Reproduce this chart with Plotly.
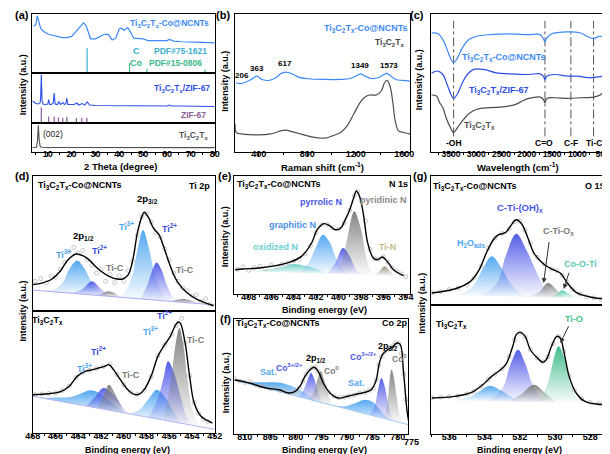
import plotly.graph_objects as go

W, H = 610, 454

# ---------------- (a) XRD ----------------
a_ncnt_x = [4, 5, 5.6, 6.2, 7, 8, 9, 10, 12, 14, 16, 18, 20, 22, 23.5, 25, 26, 27, 28, 30, 32, 34, 35.5, 37, 38.5, 40, 41, 42, 43.5, 44.5, 46, 48, 50, 52, 55, 58, 60, 61, 63, 66, 70, 75, 80]
a_ncnt_y = [79, 82, 97, 88, 76, 71, 68, 66, 64, 62, 60, 60, 62, 71, 79, 85, 81, 68, 58, 58, 62, 66, 65, 56, 59, 75, 76, 72, 77, 71, 59, 58, 58, 55, 55, 54, 55, 57, 54, 53, 53, 52, 51]
a_C_ref_x = [26.5]
a_C_ref_y = [42]
a_Co_ref_x = [44.3, 51.6, 76.0]
a_Co_ref_y = [17, 7, 6]
a_zifc_x = [3.6, 5, 6, 6.8, 7.0, 7.3, 7.6, 8.0, 9, 10.0, 10.4, 10.8, 11.5, 12.3, 12.7, 13.1, 14.0, 14.7, 15.3, 16.4, 17.0, 17.6, 18.0, 18.4, 19.5, 21, 22.2, 23, 24.5, 25.5, 26.6, 27.5, 30, 35, 40, 45, 50, 55, 60, 61, 62, 65, 70, 75, 80]
a_zifc_y = [44, 39, 38, 40, 50, 97, 45, 38, 37, 38, 47, 37, 37, 40, 60, 38, 37, 43, 37, 41, 37, 39, 50, 37, 37, 37, 40, 36, 39, 36, 42, 36, 35, 35, 35, 34, 34, 34, 34, 36, 34, 34, 34, 33, 33]
a_zif_ref_x = [7.3, 10.4, 12.7, 14.5, 16.3, 18.0, 22.0, 24.3, 26.4]
a_zif_ref_y = [31, 13, 13, 11, 10, 12, 10, 10, 10]
a_ti_x = [3.6, 5.3, 5.7, 6.05, 6.4, 6.8, 7.5, 10, 20, 40, 60, 80]
a_ti_y = [14, 15, 40, 92, 40, 18, 15, 14, 14, 14, 13.5, 13.5]

# ---------------- (b) Raman ----------------
b_ncnt_x = [213, 250, 299, 339, 384, 427, 486, 540, 580, 620, 673, 727, 807, 941, 1075, 1155, 1209, 1241, 1276, 1329, 1383, 1423, 1455, 1490, 1530, 1583, 1650]
b_ncnt_y = [50.0, 49.3, 50.7, 52.4, 54.8, 52.4, 51.7, 53.6, 56.5, 57.7, 56.5, 54.1, 52.9, 52.4, 52.4, 53.1, 55.3, 56.5, 54.8, 53.1, 53.6, 55.6, 56.8, 54.8, 52.4, 51.7, 51.2]
b_ti_x = [206, 215, 271, 406, 486, 540, 580, 620, 673, 753, 834, 941, 1008, 1075, 1128, 1182, 1235, 1276, 1316, 1369, 1410, 1437, 1458, 1482, 1504, 1525, 1552, 1597, 1650]
b_ti_y = [19.8, 13.8, 12.6, 12.1, 12.6, 13.8, 15.0, 15.5, 14.5, 12.6, 10.6, 9.7, 11.4, 13.8, 18.6, 27.1, 35.5, 39.6, 41.1, 41.1, 44.0, 50.0, 51.7, 47.6, 36.7, 22.2, 15.0, 13.8, 12.6]
b_peak_pos = [206, 363, 617, 1349, 1573]

# ---------------- (c) FTIR ----------------
c_x = [3885, 3757, 3661, 3578, 3500, 3449, 3372, 3276, 3147, 2987, 2731, 2346, 1962, 1737, 1673, 1641, 1603, 1513, 1192, 935, 808, 679, 564, 474]
c_ncnt_y = [86.2, 85.7, 81.4, 74.2, 66.9, 64.5, 68.1, 75.4, 81.4, 83.8, 85.0, 85.5, 85.0, 85.0, 82.1, 79.7, 82.6, 85.5, 87.0, 86.2, 83.8, 82.1, 83.8, 83.1]
c_zif_x = [3885, 3757, 3661, 3578, 3500, 3449, 3372, 3276, 3179, 3051, 2859, 2603, 2346, 1962, 1737, 1673, 1641, 1603, 1449, 1192, 999, 872, 743, 474]
c_zif_y = [57.2, 58.5, 56.0, 48.8, 41.5, 38.6, 42.0, 50.0, 56.0, 59.7, 59.7, 57.2, 56.5, 56.0, 56.5, 54.8, 52.4, 54.8, 56.0, 54.8, 54.8, 54.1, 53.6, 54.8]
c_ti_x = [3885, 3789, 3725, 3661, 3597, 3513, 3449, 3372, 3276, 3147, 2987, 2731, 2474, 2218, 2090, 1962, 1737, 1673, 1641, 1603, 1449, 1192, 935, 679, 551, 474]
c_ti_y = [41.1, 40.3, 35.5, 31.9, 24.6, 17.4, 13.8, 17.4, 22.2, 27.5, 30.7, 31.9, 32.4, 34.3, 36.7, 38.6, 39.6, 37.9, 35.5, 38.6, 39.1, 38.6, 39.1, 39.6, 41.1, 44.0]
c_marks_x = [3449, 1641, 1128, 679]
c_marks_txt = ["-OH", "C=O", "C-F", "Ti-C"]

# ---------------- (d) Ti 2p ----------------
d1_env_x = [468.0, 467.2, 466.3, 465.6, 464.9, 464.2, 463.6, 463.0, 462.5, 462.0, 461.3, 460.6, 460.1, 459.6, 459.2, 458.8, 458.4, 458.2, 457.8, 457.4, 456.9, 456.5, 456.1, 455.6, 455.2, 454.4, 453.5, 452.1]
d1_env_y = [19.5, 20.7, 23.7, 29.4, 38.0, 42.2, 41.0, 37.5, 33.1, 29.4, 25.7, 23.7, 23.7, 26.9, 38.0, 57.8, 70.1, 73.1, 68.9, 61.5, 56.5, 47.9, 38.0, 26.9, 20.7, 13.3, 8.4, 3.9]
d1_raw_x = [467.8, 467.3, 466.8, 466.4, 466.0, 465.6, 465.2, 464.8, 464.4, 464.0, 463.6, 463.2, 462.8, 462.4, 462.0, 461.6, 461.2, 460.8, 460.4, 460.0, 459.6, 459.2, 458.8, 458.4, 458.0, 457.6, 457.2, 456.8, 456.4, 456.0, 455.6, 455.2, 454.8, 454.4, 454.0, 453.6, 453.2, 452.8, 452.4]
d1_raw_y = [22, 24, 21, 26, 25, 31, 36, 44, 47, 43, 45, 38, 34, 28, 31, 22, 27, 21, 26, 22, 30, 37, 56, 70, 72, 66, 58, 55, 46, 38, 28, 22, 17, 15, 11, 12, 7, 9, 5]
d1_bg_x = [468, 452]
d1_bg_y = [15.5, 4.5]
d1_ti3a_x = [467.0, 466.0, 465.3, 464.8, 464.1, 463.5, 463.0, 462.4, 461.6]
d1_ti3a_y = [14.8, 16.5, 22, 31, 37.5, 32, 24, 15.5, 11.1]
d1_ti2a_x = [464.5, 463.6, 462.8, 462.1, 461.3]
d1_ti2a_y = [13.1, 16.5, 22, 17, 10.9]
d1_tica_x = [462.2, 461.3, 460.3]
d1_tica_y = [11.5, 14.6, 10.2]
d1_ti3b_x = [461.0, 460.0, 459.3, 458.8, 458.3, 457.8, 457.3, 456.7, 456.0]
d1_ti3b_y = [10.7, 13, 25, 45, 60, 47, 28, 14, 7.3]
d1_ti2b_x = [458.5, 457.9, 457.4, 457.1, 456.7, 456.2, 455.6, 455.0]
d1_ti2b_y = [9.0, 20, 32, 36, 31, 19, 9.5, 6.6]
d1_ticb_x = [455.8, 454.7, 453.4]
d1_ticb_y = [7.1, 8.8, 5.5]

d2_env_x = [468.0, 466.6, 465.5, 464.8, 464.1, 463.4, 462.7, 462.2, 461.7, 461.3, 460.9, 460.3, 459.6, 459.0, 458.6, 458.2, 457.6, 457.0, 456.5, 455.9, 455.5, 455.2, 455.0, 454.6, 454.2, 453.8, 453.2, 452.2]
d2_env_y = [31.4, 32.2, 34.2, 38.3, 46.4, 50.5, 51.9, 53.3, 54.6, 56.0, 51.9, 43.7, 35.0, 31.4, 32.0, 35.5, 46.4, 62.8, 71.0, 79.2, 87.5, 91.0, 89.6, 73.8, 46.4, 24.6, 13.7, 8.2]
d2_raw_x = [467.8, 467.2, 466.6, 466.0, 465.4, 464.8, 464.2, 463.6, 463.0, 462.4, 461.8, 461.2, 460.6, 460.0, 459.4, 458.8, 458.2, 457.6, 457.0, 456.4, 455.8, 455.4, 454.9, 454.6, 454.2, 453.8, 453.4, 453.0, 452.6]
d2_raw_y = [31.5, 32, 32.5, 33, 34.8, 38.5, 45.5, 49.8, 51.5, 52.8, 54.5, 56.5, 48, 39.5, 33.5, 31.8, 35, 46, 63.5, 72, 81, 88, 94, 74, 47, 25, 16, 11.5, 9.5]
d2_bg_x = [468, 452]
d2_bg_y = [30, 3]
d2_ti3a_x = [467.5, 466.0, 464.5, 463.5, 462.9, 462.2, 461.5, 460.5, 459.5, 458.8]
d2_ti3a_y = [29.2, 29, 30, 33.5, 35, 33, 28, 21, 16.5, 14.5]
d2_ti2a_x = [463.3, 462.5, 461.8, 461.2, 460.5, 459.8]
d2_ti2a_y = [22.1, 30, 36.9, 34, 27, 16.2]
d2_tica_x = [462.3, 461.8, 461.3, 460.8, 460.2, 459.5]
d2_tica_y = [20.4, 30, 39.6, 33, 22, 15.7]
d2_ti3b_x = [459.5, 458.6, 457.8, 457.1, 456.4, 455.8, 455.0]
d2_ti3b_y = [15.7, 19, 28, 35.5, 30, 20, 8.1]
d2_ti2b_x = [457.8, 457.0, 456.5, 456.1, 455.6, 455.0, 454.4, 453.9]
d2_ti2b_y = [12.8, 28, 45, 58.8, 50, 30, 12, 6.2]
d2_ticb_x = [456.5, 455.9, 455.4, 455.1, 454.8, 454.4, 454.0, 453.5, 453.0]
d2_ticb_y = [10.6, 40, 75, 86, 75, 45, 20, 8, 4.7]

# ---------------- (e) N 1s ----------------
e_env_x = [409.2, 408.5, 407.1, 405.6, 404.4, 403.3, 402.4, 401.9, 401.3, 400.8, 400.3, 399.8, 399.4, 399.0, 398.7, 398.4, 398.1, 397.8, 397.4, 396.9, 396.5, 396.1, 395.6, 395.1, 394.2]
e_env_y = [20.6, 21.2, 22.0, 24.0, 26.8, 31.9, 43.2, 54.5, 59.6, 57.9, 54.5, 55.9, 63.0, 71.4, 80, 87.3, 82, 68.6, 43.2, 30.5, 29.1, 31.4, 26.8, 20.6, 15.5]
e_raw_x = [409.0, 408.5, 408.0, 407.5, 407.0, 406.5, 406.0, 405.5, 405.0, 404.5, 404.0, 403.5, 403.0, 402.5, 402.0, 401.5, 401.0, 400.5, 400.0, 399.5, 399.0, 398.6, 398.3, 398.0, 397.6, 397.2, 396.8, 396.4, 396.0, 395.6, 395.2, 394.8, 394.4, 394.0]
e_raw_y = [21, 23, 20, 22.5, 23.5, 21.5, 24.5, 23, 25.5, 26.5, 28, 29.5, 34, 41, 52, 58.5, 59, 56, 55, 60.5, 71, 83, 87, 79, 62, 38, 30, 29.5, 31.5, 27, 22, 19.5, 17, 14.5]
e_ox_x = [408.5, 406.5, 405.0, 404.1, 403.0, 402.0, 401.0]
e_ox_y = [19.4, 20.5, 23, 25.4, 24, 21.5, 17.1]
e_gr_x = [403.5, 402.7, 402.0, 401.4, 400.8, 400.2, 399.5, 399.0]
e_gr_y = [17.9, 26, 40, 50.3, 44, 30, 20, 16.5]
e_pyr_x = [401.0, 400.3, 399.6, 399.0, 398.4, 397.8]
e_pyr_y = [17.1, 26, 39, 32, 20, 16.2]
e_pyd_x = [400.5, 399.8, 399.2, 398.6, 398.0, 397.5, 397.0, 396.5]
e_pyd_y = [17.0, 25, 48, 70.1, 55, 30, 18, 15.8]
e_tin_x = [396.8, 396.3, 395.9, 395.5, 395.0]
e_tin_y = [15.9, 20, 23.5, 20, 15.3]

# ---------------- (f) Co 2p ----------------
f_env_x = [812.0, 809.1, 805.9, 803.3, 801.4, 800.1, 799.1, 798.2, 797.2, 796.4, 795.6, 794.6, 793.3, 791.7, 789.8, 787.8, 786.5, 785.2, 784.3, 783.6, 783.0, 782.0, 781.0, 780.2, 779.5, 778.9, 778.2, 777.8]
f_env_y = [47.2, 44.3, 40.0, 38.5, 35.7, 37.1, 42.0, 50.1, 55.9, 58.0, 54.5, 44.3, 35.7, 31.3, 32.8, 35.0, 36.2, 38.5, 45.8, 61.7, 69.0, 73.3, 75.7, 79.1, 77.7, 55.9, 21.1, 9.6]
f_raw_x = [812, 811, 810, 809, 808, 807, 806, 805, 804, 803, 802, 801, 800, 799.3, 798.6, 798, 797.4, 796.8, 796.2, 795.6, 795, 794.4, 793.5, 792.5, 791.5, 790.5, 789.5, 788.5, 787.5, 786.5, 785.5, 784.8, 784.2, 783.7, 783.2, 782.6, 782, 781.4, 780.8, 780.3, 779.8, 779.3, 778.8, 778.4]
f_raw_y = [48, 46, 44.8, 45.5, 43, 41.5, 42, 39.5, 40, 38, 37.5, 36, 37, 40, 46, 52, 55, 57.5, 58, 54, 48, 42, 36.5, 33, 31.5, 32, 33, 34, 35.5, 36, 38, 40, 47, 60, 67, 71, 73.5, 75, 77, 79.5, 78.5, 70, 52, 30]
f_bg_x = [812.0, 777.9]
f_bg_y = [46.6, 8.1]
f_sat1_x = [811.0, 808.0, 805.5, 803.0, 800.5, 798.0, 795.5, 794.5]
f_sat1_y = [45.5, 45, 45, 44.5, 41, 35, 28, 26.8]
f_co3a_x = [799.5, 798.5, 797.6, 797.0, 796.4, 795.6, 794.8]
f_co3a_y = [32.5, 38, 48, 53, 48, 36, 27.2]
f_co0a_x = [797.5, 796.5, 795.7, 795.1, 794.5, 793.7, 792.8, 792.2]
f_co0a_y = [30.2, 36, 48, 54.5, 48, 35, 25, 24.2]
f_sat2_x = [793.0, 790.5, 788.5, 786.5, 785.0, 783.5, 782.0, 780.5, 779.0]
f_sat2_y = [25.2, 24, 26.5, 29.8, 28, 21, 14, 11, 9.3]
f_co3b_x = [785.5, 784.5, 783.8, 783.2, 782.6, 781.9, 781.2, 780.6]
f_co3b_y = [16.7, 25, 40, 48.7, 42, 27, 15, 11.2]
f_co0b_x = [782.7, 782.0, 781.5, 781.2, 780.8, 780.2, 779.6, 779.0]
f_co0b_y = [13.5, 28, 50, 56, 50, 32, 16, 9.3]

# ---------------- (g) O 1s ----------------
g1_env_x = [537.0, 535.7, 534.8, 534.3, 533.9, 533.5, 533.2, 532.8, 532.4, 532.2, 531.9, 531.5, 531.2, 530.6, 530.1, 529.7, 529.3, 528.8, 528.0, 527.2]
g1_env_y = [9.3, 12.4, 18.3, 27.4, 40.3, 50.6, 54.5, 56.3, 63.6, 66.1, 63.0, 50.6, 40.3, 31.2, 27.4, 24.8, 17.1, 9.8, 6.2, 4.7]
g1_raw_x = [537, 536.5, 536, 535.5, 535, 534.6, 534.2, 533.8, 533.4, 533.0, 532.6, 532.3, 532.0, 531.7, 531.4, 531.0, 530.6, 530.2, 529.9, 529.6, 529.3, 529.0, 528.6, 528.2, 527.8, 527.4]
g1_raw_y = [9.5, 10.5, 12, 13, 15.5, 21, 30, 44, 52, 55.5, 59, 64.5, 65, 58, 48, 37, 31.5, 28, 26.5, 23, 17.5, 12, 8.5, 6.5, 5.5, 4.5]
g1_h2o_x = [535.5, 534.7, 534.1, 533.6, 533.1, 532.5, 531.9, 531.5]
g1_h2o_y = [7.5, 14, 28, 37.7, 30, 16, 8.4, 6.2]
g1_oh_x = [534.2, 533.3, 532.8, 532.2, 531.6, 531.0, 530.5, 529.8]
g1_oh_y = [7.1, 17, 38, 55.3, 42, 24, 12, 5.6]
g1_tiox_x = [531.5, 530.9, 530.4, 530.0, 529.5]
g1_tiox_y = [6.2, 10, 17, 13, 5.5]
g1_coo_x = [530.3, 529.9, 529.6, 529.2, 528.8]
g1_coo_y = [5.8, 8.5, 11.4, 8.5, 5.3]

g2_env_x = [537.0, 535.7, 534.8, 534.1, 533.6, 533.2, 532.8, 532.4, 532.2, 532.0, 531.7, 531.4, 531.0, 530.7, 530.5, 530.2, 529.9, 529.7, 529.5, 529.2, 528.8, 528.3, 527.2]
g2_env_y = [27.9, 29.2, 31.8, 38.2, 44.7, 48.6, 53.7, 68.0, 77.0, 78.8, 75.7, 65.3, 58.9, 55.6, 57.6, 68.0, 75.7, 74.4, 64.1, 44.7, 31.8, 25.3, 22.7]
g2_raw_x = [537, 536.5, 536, 535.5, 535, 534.6, 534.2, 533.8, 533.4, 533.0, 532.6, 532.3, 532.0, 531.7, 531.4, 531.0, 530.7, 530.4, 530.1, 529.8, 529.5, 529.2, 528.9, 528.5, 528.0, 527.5]
g2_raw_y = [28, 28.5, 29, 29.5, 31, 33, 37, 42, 46.5, 50.5, 60, 73, 78.5, 75.5, 65.5, 59, 55.8, 60, 70, 75.5, 64, 45, 34, 27.5, 24.5, 23.5]
g2_h2o_x = [535.8, 534.8, 534.2, 533.7, 533.1, 532.5, 531.9]
g2_h2o_y = [26.2, 29, 34, 37.4, 34, 29, 24.9]
g2_oh_x = [533.8, 533.0, 532.5, 532.1, 531.7, 531.2, 530.6, 530.2]
g2_oh_y = [25.5, 35, 55, 65.3, 55, 36, 26, 24.3]
g2_tiox_x = [532.6, 531.9, 531.2, 530.5, 529.9]
g2_tiox_y = [25.1, 31, 38.2, 31, 24.2]
g2_tio_x = [530.9, 530.4, 530.0, 529.8, 529.5, 529.1, 528.7, 528.3]
g2_tio_y = [24.6, 40, 62, 68, 60, 38, 27, 23.7]

# ---------------- styles ----------------
C_NCNT = "#3D8AF7"
C_ZIFC = "#2F4FE6"
C_ZIF = "#8A5C98"
C_TI = "#4D4D4D"
C_CREF = "#3AAFD0"
C_COREF = "#3CB889"
RGB = {"lb": (74, 163, 240), "vi": (76, 86, 230), "gr": (125, 125, 125),
       "te": (105, 205, 195), "tn": (150, 140, 120), "cg": (80, 200, 165), "tio": (55, 185, 135)}
FONT = "Arial"

fig = go.Figure()


def ax(n):
    return ("x" if n == 1 else f"x{n}"), ("y" if n == 1 else f"y{n}")


def line(n, x, y, color, width=1.0, shape="linear", dash=None):
    xa, ya = ax(n)
    fig.add_trace(go.Scatter(x=x, y=y, xaxis=xa, yaxis=ya, mode="lines", line_shape=shape,
                             line=dict(color=color, width=width, dash=dash), hoverinfo="skip",
                             showlegend=False))


def sticks(n, xs, hs, color, width=1.0):
    xx, yy = [], []
    for xv, hv in zip(xs, hs):
        xx += [xv, xv, None]
        yy += [0, hv, None]
    line(n, xx, yy, color, width)


def comp(n, x, y, key):
    r, g, b = RGB[key]
    xa, ya = ax(n)
    fig.add_trace(go.Scatter(x=x, y=y, xaxis=xa, yaxis=ya, mode="lines", fill="toself",
                             line=dict(width=0, color=f"rgba({r},{g},{b},0)"), line_shape="spline",
                             fillcolor=f"rgba({r},{g},{b},0.6)",
                             fillgradient=dict(type="vertical", colorscale=[[0, f"rgba({r},{g},{b},0.02)"],
                                                                            [1, f"rgba({r},{g},{b},0.95)"]]),
                             hoverinfo="skip", showlegend=False))


def raw(n, x, y):
    xa, ya = ax(n)
    fig.add_trace(go.Scatter(x=x, y=y, xaxis=xa, yaxis=ya, mode="markers",
                             marker=dict(symbol="circle-open", size=4, color="#B8B8B8", line=dict(width=0.8)),
                             hoverinfo="skip", showlegend=False))


# (a)
line(1, a_ncnt_x, a_ncnt_y, C_NCNT, 1.2)
sticks(1, a_C_ref_x, a_C_ref_y, C_CREF, 1.2)
sticks(1, a_Co_ref_x, a_Co_ref_y, C_COREF, 1.2)
line(2, a_zifc_x, a_zifc_y, C_ZIFC, 1.1)
sticks(2, a_zif_ref_x, a_zif_ref_y, C_ZIF, 1.2)
line(3, a_ti_x, a_ti_y, C_TI, 1.1)
# (b)
line(4, b_ncnt_x, b_ncnt_y, C_NCNT, 1.2, "spline")
line(4, b_ti_x, b_ti_y, C_TI, 1.2, "spline")
# (c)
for xv in c_marks_x:
    line(5, [xv, xv], [11, 95], "#555555", 1.0, dash="dashdot")
line(5, c_x, c_ncnt_y, C_NCNT, 1.2, "spline")
line(5, c_zif_x, c_zif_y, C_ZIFC, 1.2, "spline")
line(5, c_ti_x, c_ti_y, C_TI, 1.2, "spline")
# (d)
for xs, ys, k in [(d1_ti3a_x, d1_ti3a_y, "lb"), (d1_ti2a_x, d1_ti2a_y, "vi"), (d1_tica_x, d1_tica_y, "gr"),
                  (d1_ti3b_x, d1_ti3b_y, "lb"), (d1_ti2b_x, d1_ti2b_y, "vi"), (d1_ticb_x, d1_ticb_y, "gr")]:
    comp(6, xs, ys, k)
line(6, d1_bg_x, d1_bg_y, "#A9A9F2", 1.0)
raw(6, d1_raw_x, d1_raw_y)
line(6, d1_env_x, d1_env_y, "black", 1.4, "spline")
for xs, ys, k in [(d2_ti3a_x, d2_ti3a_y, "lb"), (d2_ti2a_x, d2_ti2a_y, "vi"), (d2_tica_x, d2_tica_y, "gr"),
                  (d2_ti3b_x, d2_ti3b_y, "lb"), (d2_ti2b_x, d2_ti2b_y, "vi"), (d2_ticb_x, d2_ticb_y, "gr")]:
    comp(7, xs, ys, k)
line(7, d2_bg_x, d2_bg_y, "#B4B4F2", 1.0)
raw(7, d2_raw_x, d2_raw_y)
line(7, d2_env_x, d2_env_y, "black", 1.4, "spline")
# (e)
for xs, ys, k in [(e_ox_x, e_ox_y, "te"), (e_gr_x, e_gr_y, "lb"), (e_pyr_x, e_pyr_y, "vi"),
                  (e_pyd_x, e_pyd_y, "gr"), (e_tin_x, e_tin_y, "tn")]:
    comp(8, xs, ys, k)
raw(8, e_raw_x, e_raw_y)
line(8, e_env_x, e_env_y, "black", 1.4, "spline")
# (f)
for xs, ys, k in [(f_sat1_x, f_sat1_y, "lb"), (f_sat2_x, f_sat2_y, "lb"), (f_co3a_x, f_co3a_y, "vi"),
                  (f_co0a_x, f_co0a_y, "gr"), (f_co3b_x, f_co3b_y, "vi"), (f_co0b_x, f_co0b_y, "gr")]:
    comp(9, xs, ys, k)
line(9, f_bg_x, f_bg_y, "#9ECBF5", 1.0)
raw(9, f_raw_x, f_raw_y)
line(9, f_env_x, f_env_y, "black", 1.4, "spline")
# (g)
for xs, ys, k in [(g1_h2o_x, g1_h2o_y, "lb"), (g1_oh_x, g1_oh_y, "vi"), (g1_tiox_x, g1_tiox_y, "gr"),
                  (g1_coo_x, g1_coo_y, "cg")]:
    comp(10, xs, ys, k)
raw(10, g1_raw_x, g1_raw_y)
line(10, g1_env_x, g1_env_y, "black", 1.4, "spline")
for xs, ys, k in [(g2_h2o_x, g2_h2o_y, "lb"), (g2_oh_x, g2_oh_y, "vi"), (g2_tiox_x, g2_tiox_y, "gr"),
                  (g2_tio_x, g2_tio_y, "tio")]:
    comp(11, xs, ys, k)
raw(11, g2_raw_x, g2_raw_y)
line(11, g2_env_x, g2_env_y, "black", 1.4, "spline")

# ---------------- axes ----------------
dom = {1: (16.7, 204, 6, 65), 2: (16.7, 204, 65, 115), 3: (16.7, 204, 115, 143.5),
       4: (225, 405, 6, 143.5), 5: (426, 605, 6, 143.5),
       6: (17.3, 204, 168, 303), 7: (17.3, 204, 303, 425),
       8: (224, 405, 168, 286), 9: (224, 403, 311, 426),
       10: (426, 606, 168, 297), 11: (426, 606, 297, 426)}
xr = {1: [3.5, 80], 2: [3.5, 80], 3: [3.5, 80], 4: [205, 1650], 5: [3900, 450],
      6: [468, 452], 7: [468, 452], 8: [409.3, 393.6], 9: [812.1, 777.9], 10: [537.05, 527.1], 11: [537.05, 527.1]}
tk = {3: (10, 10, 5), 4: (400, 400, 200), 5: (500, 500, 250), 7: (2, 452, 1), 8: (2, 394, 1),
      9: (5, 780, 2.5), 11: (2, 528, 1)}
for n, (x0, x1, y0, y1) in dom.items():
    xa = "xaxis" if n == 1 else f"xaxis{n}"
    ya = "yaxis" if n == 1 else f"yaxis{n}"
    xd = dict(domain=[x0 / W, x1 / W], range=xr[n], anchor=ax(n)[1], showline=True, mirror=True,
              linecolor="black", linewidth=1, showgrid=False, zeroline=False, fixedrange=True)
    if n in tk:
        dt, t0, mn = tk[n]
        tfs = 8.5 if n == 5 else 9
        xd.update(dict(dtick=dt, tick0=t0, ticks="outside", ticklen=3, tickwidth=1, tickcolor="black",
                       showticklabels=True, ticklabelstandoff=-9,
                       tickfont=dict(family=FONT, size=tfs, color="black", weight="bold"),
                       minor=dict(dtick=mn, tick0=t0, ticks="outside", ticklen=2, tickcolor="black")))
    else:
        xd.update(dict(showticklabels=False, ticks=""))
    yd = dict(domain=[1 - y1 / H, 1 - y0 / H], range=[0, 100], anchor=ax(n)[0], showline=True, mirror=True,
              linecolor="black", linewidth=1, showgrid=False, zeroline=False, showticklabels=False,
              ticks="", fixedrange=True)
    fig.layout[xa] = xd
    fig.layout[ya] = yd

# ---------------- text ----------------
ann = []


def T(s, px, py, color="black", size=10, bold=True, angle=0, xanchor="center"):
    ann.append(dict(text=(f"<b>{s}</b>" if bold else s), x=px / W, y=1 - py / H, xref="paper", yref="paper",
                    showarrow=False, xanchor=xanchor, yanchor="middle", textangle=angle,
                    font=dict(family=FONT, size=size, color=color)))


TI = "Ti<sub>3</sub>C<sub>2</sub>T<sub>x</sub>"
for s, px, py in [("(a)", 6, 7), ("(b)", 213, 7), ("(c)", 412, 7), ("(d)", 6, 168),
                  ("(e)", 215, 168), ("(f)", 215, 311), ("(g)", 415, 168)]:
    T(s, px, py, size=11)
for px, py in [(7.5, 77), (214.5, 73), (414, 72), (6.7, 303), (215, 229), (216, 375), (416.7, 295)]:
    T("Intensity (a.u.)", px, py, size=9, angle=-90)
T("2 Theta (degree)", 107, 158.5, size=9.5)
T("Raman shift (cm<sup>-1</sup>)", 315, 158.5, size=9.5)
T("Wavelength (cm<sup>-1</sup>)", 515.5, 158.5, size=9.5)
for px in [115, 317, 516.7]:
    T("Binding energy (eV)", px, 442, size=9)
T("Binding energy (eV)", 317, 301.5, size=9)
T("775", 406, 434, size=9)

# (a)
T(TI + "-Co@NCNTs", 158, 15, C_NCNT, 8.5)
T("C", 124, 43, C_CREF, 9)
T("PDF#75-1621", 168.5, 43, C_CREF, 8.5)
T("Co", 124, 55, C_COREF, 9)
T("PDF#15-0806", 164, 55, C_COREF, 8.5)
T(TI + "/ZIF-67", 170, 80, C_ZIFC, 8.5)
T("ZIF-67", 182, 107, C_ZIF, 8.5)
T("(002)", 38, 126, "#222222", 8.5, bold=False)
T(TI, 182, 127, "#555555", 8.5)
# (b)
T(TI + "-Co@NCNTs", 359, 20, C_NCNT, 9)
T(TI, 384, 34, "#444444", 8.5)
for s, px, py in [("206", 232.3, 67.7), ("363", 247.3, 60), ("617", 276.7, 55.7), ("1349", 353.3, 57.3),
                  ("1573", 382.7, 57.3)]:
    T(s, px, py, size=8)
# (c)
T(TI + "-Co@NCNTs", 501, 49, C_NCNT, 9)
T(TI + "/ZIF-67", 495, 83, C_ZIFC, 9)
T(TI, 476, 117, "#555555", 9)
for s, px in zip(c_marks_txt, [449.3, 542.7, 570, 593.3]):
    T(s, px, 135, size=8.5)
# (d)
LB, VI, GRY = "#4FA6F2", "#3C4BE0", "#7A7A7A"
T(TI + "-Co@NCNTs", 66, 177.5, size=9)
T("Ti 2p", 188.5, 177.5, size=9)
T("2p<sub>3/2</sub>", 135, 191, size=9.5)
T("2p<sub>1/2</sub>", 69, 228, size=9.5)
T("Ti<sup>3+</sup>", 48.3, 246, LB, 9)
T("Ti<sup>2+</sup>", 85.7, 242, VI, 9)
T("Ti-C", 101.7, 260, GRY, 9)
T("Ti<sup>3+</sup>", 113.3, 218.3, LB, 9)
T("Ti<sup>2+</sup>", 157.3, 220, VI, 9)
T("Ti-C", 174, 261.7, GRY, 9)
T(TI, 32.5, 312.3, size=9)
T("Ti<sup>2+</sup>", 152.3, 306.7, VI, 9)
T("Ti-C", 185, 331.7, GRY, 9)
T("Ti<sup>3+</sup>", 138.3, 323.3, LB, 9)
T("Ti<sup>2+</sup>", 85, 343.3, VI, 9)
T("Ti<sup>3+</sup>", 70, 360, LB, 9)
T("Ti-C", 118.3, 366.7, GRY, 9)
# (e)
T(TI + "-Co@NCNTs", 270, 176, size=9)
T("N 1s", 392.5, 176, size=9)
T("pyrrolic N", 313, 194, "#4A55E6", 9)
T("pyridinic N", 377, 192, "#8A8A8A", 9)
T("graphitic N", 284, 216.7, "#4A8FE8", 9)
T("oxidized N", 266, 239, "#6CCFD2", 9)
T("Ti-N", 381.7, 239.3, "#C9B98A", 9)
# (f)
T(TI + "-Co@NCNTs", 269, 315, size=9)
T("Co 2p", 389, 315, size=9)
T("2p<sub>3/2</sub>", 382, 338, size=9)
T("2p<sub>1/2</sub>", 308, 350.5, size=9)
T("Co<sup>3+/2+</sup>", 281, 359, "#4A55E6", 8.5)
T("Co<sup>0</sup>", 324, 362, GRY, 8.5)
T("Co<sup>3+/2+</sup>", 356.7, 348.3, "#4A55E6", 8.5)
T("Co<sup>0</sup>", 394, 350, GRY, 8.5)
T("Sat.", 259, 364, "#5AAAF0", 9)
T("Sat.", 350, 375, "#5AAAF0", 9)
# (g)
T(TI + "-Co@NCNTs", 471.5, 178.3, size=9)
T("O 1S", 595, 178.3, size=9)
T("C-Ti-(OH)<sub>x</sub>", 517.5, 200, "#4A55E6", 9.5)
T("H<sub>2</sub>O<sub>ads</sub>", 467, 235, LB, 9)
T("C-Ti-O<sub>x</sub>", 556.7, 223.3, GRY, 9)
T("Co-O-Ti", 580, 255.7, "#5CC8B0", 9)
T(TI, 447, 316.7, size=9)
T("Ti-O", 573.3, 310.7, "#45C28F", 9)

# arrows (heads in data coords of g panels)
for n, hx, hy, axp, ayp in [(10, 530.65, 17, 5.7, -42.6), (10, 529.5, 12.4, 5.6, -17.7), (11, 529.7, 70.5, 9, -18.3)]:
    xa, ya = ax(n)
    ann.append(dict(text="", x=hx, y=hy, xref=xa, yref=ya, ax=axp, ay=ayp, axref="pixel", ayref="pixel",
                    showarrow=True, arrowhead=2, arrowsize=1, arrowwidth=1, arrowcolor="#333333"))

fig.update_layout(width=W, height=H, margin=dict(l=0, r=0, t=0, b=0), paper_bgcolor="white",
                  plot_bgcolor="white", annotations=ann, showlegend=False)
fig.write_html("out.html")
